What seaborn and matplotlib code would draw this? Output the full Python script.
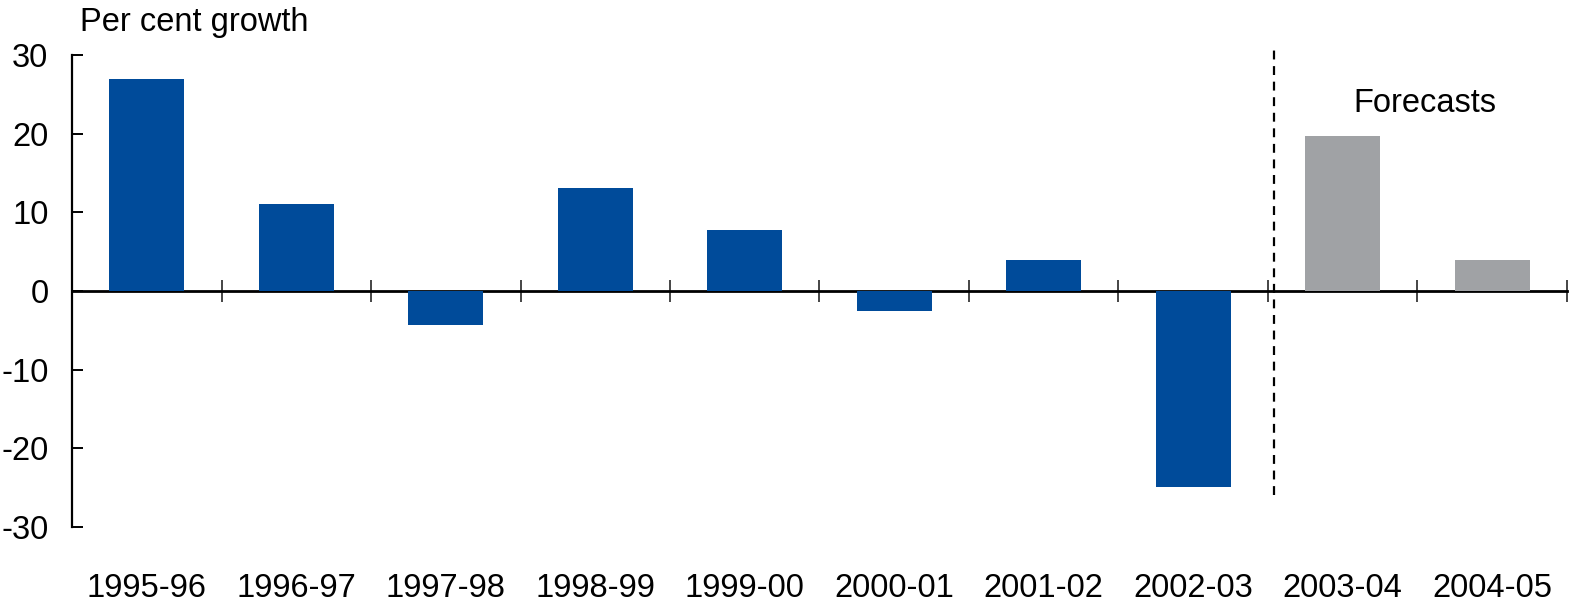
import numpy as np
import pandas as pd
import seaborn as sns
import matplotlib.pyplot as plt

# data
years = ['1995-96', '1996-97', '1997-98', '1998-99', '1999-00',
         '2000-01', '2001-02', '2002-03', '2003-04', '2004-05']
growth = [27.0, 11.0, -4.3, 13.1, 7.8, -2.5, 3.9, -24.9, 19.7, 3.9]
kind = ['Actual'] * 8 + ['Forecast'] * 2
yticks = [-30, -20, -10, 0, 10, 20, 30]

sns.set_style('white')
plt.rcParams['font.family'] = ['Liberation Sans', 'DejaVu Sans']
plt.rcParams['axes.unicode_minus'] = False
plt.rcParams['ytick.direction'] = 'in'
plt.rcParams['ytick.left'] = True
plt.rcParams['text.color'] = 'black'

df = pd.DataFrame({'year': years, 'growth': growth, 'kind': kind})
colours = {'Actual': '#004B9A', 'Forecast': '#A0A2A5'}

fig = plt.figure(figsize=(15.9, 6.07), dpi=100)
ax = fig.add_axes([0.0453, 0.1318, 0.9402, 0.7776])
sns.barplot(data=df, x='year', y='growth', hue='kind', palette=colours,
            width=0.5, dodge=False, legend=False, ax=ax, saturation=1,
            linewidth=0, edgecolor='none')

ax.set_xlim(-0.5, len(years) - 0.5)
ax.set_ylim(-30, 30)
ax.set_yticks(yticks)
ax.set_xlabel('')
ax.set_ylabel('')

for s in ['top', 'right', 'bottom']:
    ax.spines[s].set_visible(False)
ax.spines['left'].set_linewidth(1.6)
ax.spines['left'].set_color('black')

ax.tick_params(axis='y', left=True, direction='in', length=8, width=1.4,
               pad=17, labelsize=23.5, colors='black')
ax.tick_params(axis='x', length=0, pad=33, labelsize=23.5, colors='black')

# zero line with category boundary ticks
zero = ax.secondary_xaxis(0.5)
zero.set_xticks(np.arange(len(years)) + 0.5)
zero.set_xticklabels([])
zero.tick_params(direction='inout', length=16, width=1.2)
for s in zero.spines.values():
    s.set_linewidth(2)
    s.set_color('black')

# forecast divider between 2002-03 and 2003-04
ax.axvline(7.54, ymin=0.068, ymax=1.01, color='black', lw=1.6,
           ls=(0, (4, 3)), clip_on=False)
ax.text(8.55, 23.8, 'Forecasts', ha='center', va='center', fontsize=23.5,
        color='black')

fig.text(0.05, 0.963, 'Per cent growth', ha='left', va='center',
         fontsize=23.5, color='black')

fig.savefig('out.png', dpi=100)
